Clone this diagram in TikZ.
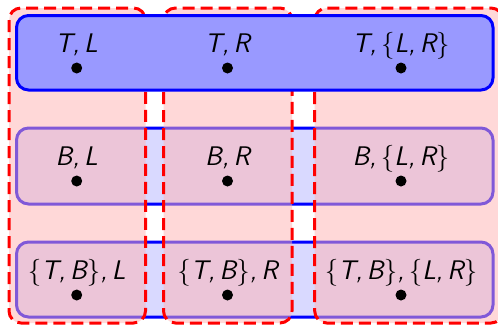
\documentclass[tikz,border=0pt]{standalone}
% let the math symbol font (braces) scale to any size
\DeclareFontShape{OMS}{cmsy}{m}{n}{<->cmsy10}{}
\begin{document}
\begin{tikzpicture}[x=1bp,y=-1bp,
  row/.style={draw=blue,line width=3bp,rounded corners=12bp},
  col/.style={draw=red,line width=3bp,dash pattern=on 12bp off 6bp,
              rounded corners=12bp,fill=red!30,fill opacity=0.5},
  state/.style={circle,fill=black,inner sep=0pt,minimum size=11bp},
  lbl/.style={anchor=base,inner sep=0pt,
              font=\fontsize{27}{32}\selectfont\sffamily\itshape}]
\useasboundingbox (0,0) rectangle (498,326);
\clip (0,0) rectangle (498,326);

% lower two rows
\path[row,fill=blue!15] (16.5,128) rectangle (493,204);
\path[row,fill=blue!15] (16.5,242) rectangle (493,317);

% translucent columns
\path[col] (9,8) rectangle (145.5,323);
\path[col] (163.5,8) rectangle (292,323);
\path[col] (314.7,8) rectangle (503,323);

% top row, drawn over the columns
\path[row,fill=blue!40] (16.5,15.5) rectangle (493,90);

% states
\node[state] (TL) at (76.7,68) {};
\node[state] (TR) at (227.5,68) {};
\node[state] (TLR) at (401,68) {};
\node[state] (BL) at (76.7,181) {};
\node[state] (BR) at (227.5,181) {};
\node[state] (BLR) at (401,181) {};
\node[state] (TBL) at (76.7,295) {};
\node[state] (TBR) at (227.5,295) {};
\node[state] (TBLR) at (401,295) {};

% state labels
\node[lbl] (lTL) at ([yshift=16bp]TL.center) {T,\,L};
\node[lbl] (lTR) at ([yshift=16bp]TR.center) {T,\,R};
\node[lbl] (lTLR) at ([yshift=16bp]TLR.center) {T,\,$\{$L,\,R$\}$};
\node[lbl] (lBL) at ([yshift=16bp]BL.center) {B,\,L};
\node[lbl] (lBR) at ([yshift=16bp]BR.center) {B,\,R};
\node[lbl] (lBLR) at ([yshift=16bp]BLR.center) {B,\,$\{$L,\,R$\}$};
\node[lbl] (lTBL) at ([yshift=16bp]TBL.center) {$\{$T,\,B$\}$,\,L};
\node[lbl] (lTBR) at ([yshift=16bp]TBR.center) {$\{$T,\,B$\}$,\,R};
\node[lbl] (lTBLR) at ([yshift=16bp]TBLR.center) {$\{$T,\,B$\}$,\,$\{$L,\,R$\}$};
\end{tikzpicture}
\end{document}
